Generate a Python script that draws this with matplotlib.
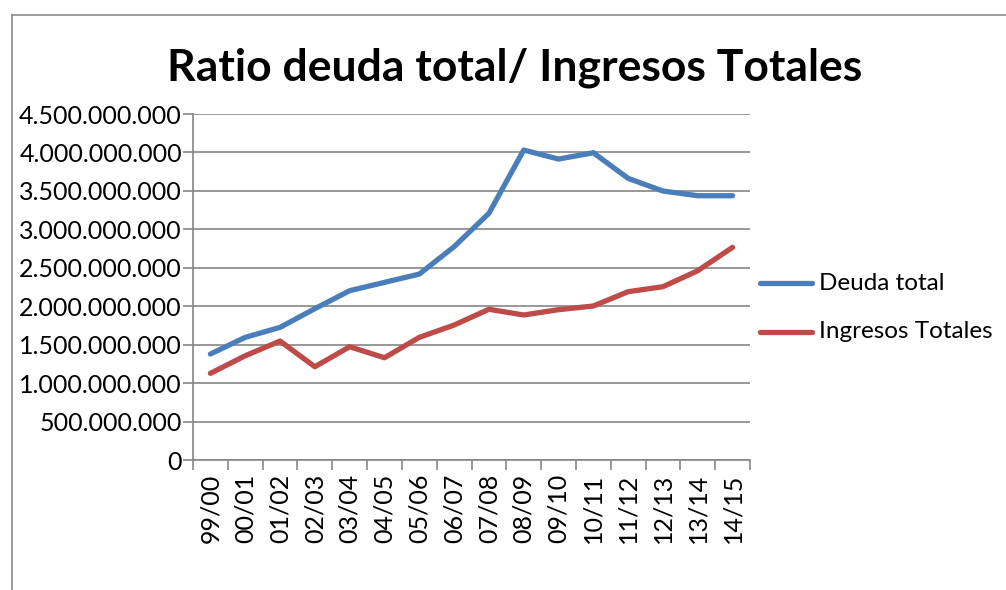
import matplotlib
matplotlib.use("Agg")
import matplotlib.pyplot as plt
from matplotlib.lines import Line2D

categories = ["99/00", "00/01", "01/02", "02/03", "03/04", "04/05", "05/06", "06/07",
              "07/08", "08/09", "09/10", "10/11", "11/12", "12/13", "13/14", "14/15"]
deuda_total = [1.378e9, 1.595e9, 1.725e9, 1.968e9, 2.202e9, 2.310e9, 2.418e9, 2.774e9,
               3.208e9, 4.031e9, 3.914e9, 3.996e9, 3.663e9, 3.498e9, 3.437e9, 3.437e9]
ingresos_totales = [1.127e9, 1.356e9, 1.547e9, 1.213e9, 1.473e9, 1.330e9, 1.595e9, 1.755e9,
                    1.960e9, 1.886e9, 1.955e9, 2.003e9, 2.189e9, 2.254e9, 2.462e9, 2.766e9]
y_ticks = [0, 0.5e9, 1.0e9, 1.5e9, 2.0e9, 2.5e9, 3.0e9, 3.5e9, 4.0e9, 4.5e9]
title = "Ratio deuda total/ Ingresos Totales"
series_names = ["Deuda total", "Ingresos Totales"]
colors = ["#4A7EBB", "#BE4B48"]

FONT = ["Lato", "DejaVu Sans"]
W, H = 1006, 590
fig = plt.figure(figsize=(W / 100, H / 100), dpi=100)

# chart area border (left and top)
fig.add_artist(Line2D([12 / W, 12 / W], [0, 1 - 15 / H], color="#8c8c8c", lw=1.2))
fig.add_artist(Line2D([12 / W, 1], [1 - 15 / H, 1 - 15 / H], color="#8c8c8c", lw=1.2))

ax = fig.add_axes([193 / W, 1 - 460 / H, (750 - 193) / W, (460 - 114) / H])
x = list(range(len(categories)))
ax.plot(x, deuda_total, color=colors[0], lw=3.8, solid_capstyle="round", solid_joinstyle="round")
ax.plot(x, ingresos_totales, color=colors[1], lw=3.8, solid_capstyle="round", solid_joinstyle="round")

ax.set_xlim(-0.5, len(categories) - 0.5)
ax.set_ylim(0, 4.5e9)
ax.set_yticks(y_ticks)
ax.set_yticklabels(["0" if v == 0 else f"{int(v):,}".replace(",", ".") for v in y_ticks],
                   fontfamily=FONT, fontsize=18)
ax.set_xticks(x)
ax.set_xticklabels(categories, rotation=90, fontfamily=FONT, fontsize=18)
ax.set_xticks([i - 0.5 for i in range(len(categories) + 1)], minor=True)
ax.tick_params(axis="x", which="major", length=0, pad=10)
ax.tick_params(axis="x", which="minor", length=7, width=1.2, color="#868686", direction="out")
ax.tick_params(axis="y", length=7, width=1.2, color="#868686", direction="out", pad=1)
ax.grid(axis="y", color="#868686", lw=1.2)
ax.set_axisbelow(True)
for s in ["top", "right"]:
    ax.spines[s].set_visible(False)
for s in ["left", "bottom"]:
    ax.spines[s].set_color("#868686")
    ax.spines[s].set_linewidth(1.2)

fig.text(515 / W, 1 - 68 / H, title, ha="center", va="center", fontsize=32,
         fontweight="bold", fontfamily=FONT)

# legend
for i, (name, c) in enumerate(zip(series_names, colors)):
    yy = 1 - (283 + 49 * i) / H
    fig.add_artist(Line2D([760 / W, 812 / W], [yy, yy], color=c, lw=3.8, solid_capstyle="round"))
    fig.text(819 / W, yy, name, ha="left", va="center", fontsize=17.5, fontfamily=FONT)

fig.savefig("out.png", dpi=100)
